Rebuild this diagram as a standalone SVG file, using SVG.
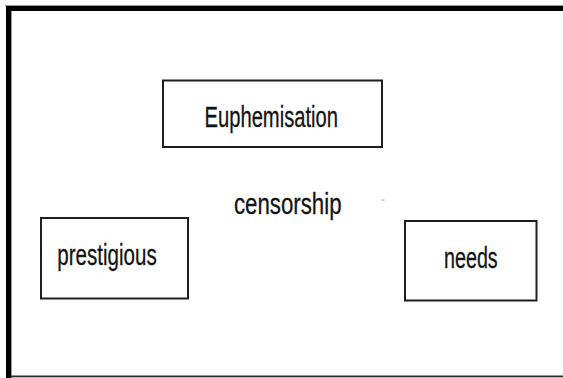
<svg xmlns="http://www.w3.org/2000/svg" width="563" height="378" viewBox="0 0 563 378">
  <style>
    .box { fill: #ffffff; stroke: #1e1e1e; stroke-width: 2; }
    .lbl { font-family: "Liberation Sans", Arial, sans-serif; font-size: 29px; fill: #141414; stroke: #141414; stroke-width: 0.3; }
  </style>
  <rect x="0" y="0" width="563" height="378" fill="#ffffff"/>
  <g id="frame">
    <rect x="5" y="5" width="558" height="1" fill="#9a9a9a"/>
    <rect x="6" y="6" width="557" height="5" fill="#000000"/>
    <rect x="6" y="6" width="5" height="372" fill="#000000"/>
    <rect x="11" y="11" width="1" height="367" fill="#9a9a9a"/>
    <rect x="11" y="375.5" width="552" height="1.8" fill="#2a2a2a"/>
  </g>
  <g id="connectors"></g>
  <g id="node-euphemisation">
    <rect class="box" x="163" y="80.5" width="219" height="66.5"/>
    <text class="lbl" x="204.5" y="127" textLength="133.5" lengthAdjust="spacingAndGlyphs">Euphemisation</text>
  </g>
  <g id="node-censorship">
    <text class="lbl" x="234" y="213.5" textLength="107.5" lengthAdjust="spacingAndGlyphs">censorship</text>
  </g>
  <g id="node-prestigious">
    <rect class="box" x="41" y="218" width="147" height="80.5"/>
    <text class="lbl" x="57.3" y="265" textLength="99.4" lengthAdjust="spacingAndGlyphs">prestigious</text>
  </g>
  <g id="node-needs">
    <rect class="box" x="405" y="221" width="131.5" height="79.5"/>
    <text class="lbl" x="444" y="268" textLength="53.7" lengthAdjust="spacingAndGlyphs">needs</text>
  </g>
  <rect x="381.5" y="199.5" width="3" height="1.2" fill="#b0b0b0"/>
</svg>
